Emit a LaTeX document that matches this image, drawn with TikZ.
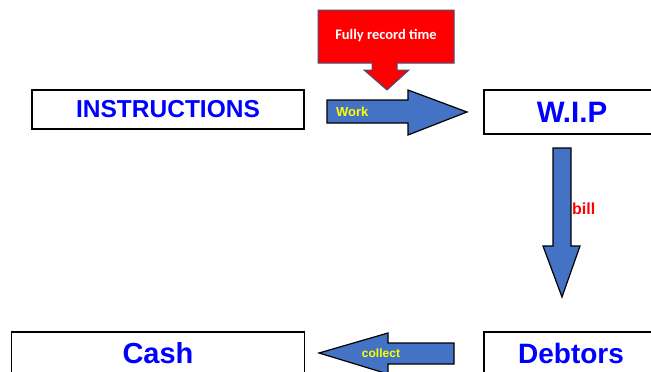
\documentclass[tikz,border=0pt]{standalone}
\usepackage{fontspec}
\setmainfont{Liberation Sans}
\newfontfamily\calib{Carlito}
\definecolor{arrowblue}{RGB}{68,114,196}
\definecolor{txtblue}{RGB}{0,0,255}
\definecolor{txtyellow}{RGB}{255,255,0}
\definecolor{calloutedge}{RGB}{60,80,130}
\begin{document}
\begin{tikzpicture}[x=1pt,y=-1pt,
  stagebox/.style={draw=black,line width=1.3pt,fill=white,inner sep=0pt,
    text=txtblue,font=\bfseries},
  blockarrow/.style={draw=black,line width=1.2pt,fill=arrowblue,line join=miter},
  lbl/.style={inner sep=0pt,font=\bfseries}]
\useasboundingbox (0,0) rectangle (651,372);
\clip (0,0) rectangle (651,372);
% stage boxes
\node[stagebox,minimum width=272pt,minimum height=39pt,font=\bfseries\fontsize{24.5}{24.5}\selectfont] (instr) at (168,109.5) {INSTRUCTIONS};
\node[stagebox,minimum width=176pt,minimum height=44pt,font=\bfseries\fontsize{29.5}{29.5}\selectfont] (wip) at (572,112) {W.I.P};
\node[stagebox,minimum width=174pt,minimum height=42pt,font=\bfseries\fontsize{28}{28}\selectfont] (debtors) at (571,353) {Debtors};
\node[stagebox,minimum width=293pt,minimum height=42pt,font=\bfseries\fontsize{29}{29}\selectfont] (cash) at (158,353) {Cash};
% callout
\draw[fill=red,draw=calloutedge,line width=1pt,line join=miter]
  (318,10) -- (454,10) -- (454,63) -- (397,63) -- (397,70) -- (409,70) -- (387,90)
  -- (364,70) -- (372,70) -- (372,63) -- (318,63) -- cycle;
\node[lbl,text=white,font=\calib\bfseries\fontsize{14.5}{14.5}\selectfont] (callout) at (386,36) {Fully record time};
% work arrow
\draw[blockarrow] (327,100) -- (408,100) -- (408,90) -- (467,112) -- (408,135) -- (408,123) -- (327,123) -- cycle;
\node[lbl,text=txtyellow,font=\bfseries\fontsize{13}{13}\selectfont,anchor=west] (work) at (336,112) {Work};
% bill arrow
\draw[blockarrow] (553,148) -- (571,148) -- (571,246) -- (580,246) -- (562,297) -- (543,246) -- (553,246) -- cycle;
\node[lbl,text=red,font=\bfseries\fontsize{16}{16}\selectfont,anchor=west] (bill) at (572,209) {bill};
% collect arrow
\draw[blockarrow] (454,343) -- (454,364) -- (388,364) -- (388,374) -- (319,353) -- (388,333) -- (388,343) -- cycle;
\node[lbl,text=txtyellow,font=\bfseries\fontsize{12}{12}\selectfont] (collect) at (381,353) {collect};
\end{tikzpicture}
\end{document}
